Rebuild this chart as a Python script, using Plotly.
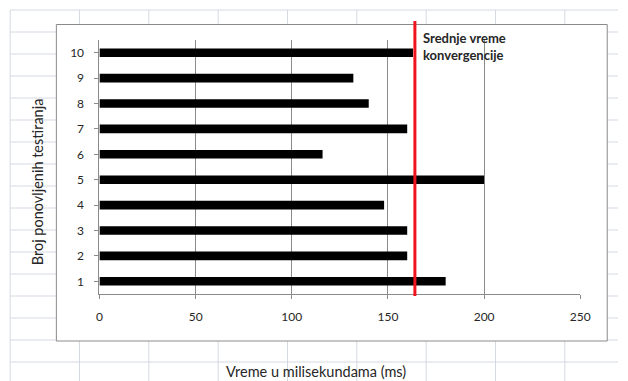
import plotly.graph_objects as go

# Test run results
runs = [1, 2, 3, 4, 5, 6, 7, 8, 9, 10]
times_ms = [180, 160, 160, 148, 200, 116, 160, 140, 132, 163]
mean_time = 164
x_ticks = [0, 50, 100, 150, 200, 250]

W, H = 628, 381
FONT = "Lato"
TEXT = "#262626"
AXIS_GRAY = "#8a8a8a"
SHEET_LINE = "#d4d9e2"


def px(x):
    return x / W


def py(y):
    return 1 - y / H


fig = go.Figure()

fig.add_trace(go.Bar(
    x=times_ms,
    y=runs,
    orientation="h",
    width=0.34,
    marker=dict(color="#000000", line=dict(width=0)),
    showlegend=False,
    hoverinfo="x+y",
))

shapes = []
# worksheet cell grid behind the chart
col_x = 7.3
while col_x < W:
    shapes.append(dict(type="line", xref="paper", yref="paper",
                       x0=px(col_x), x1=px(col_x), y0=py(10), y1=0,
                       line=dict(color=SHEET_LINE, width=1), layer="below"))
    col_x += 70.8
row_y = 10
while row_y < H:
    shapes.append(dict(type="line", xref="paper", yref="paper",
                       x0=px(7.3), x1=1, y0=py(row_y), y1=py(row_y),
                       line=dict(color=SHEET_LINE, width=1), layer="below"))
    row_y += 22

# chart frame
shapes.append(dict(type="rect", xref="paper", yref="paper",
                   x0=px(54.5), x1=px(617), y0=py(341), y1=py(24.5),
                   fillcolor="white", line=dict(color=AXIS_GRAY, width=1),
                   layer="below"))

# average convergence time marker
shapes.append(dict(type="line", xref="x", yref="paper",
                   x0=mean_time, x1=mean_time, y0=py(296), y1=py(21),
                   line=dict(color="#f0141e", width=3), layer="above"))

annotations = [
    dict(text="<b>Srednje vreme<br>konvergencije</b>", xref="paper", yref="paper",
         x=px(427), y=py(28), xanchor="left", yanchor="top", align="left",
         showarrow=False, font=dict(family=FONT, size=13, color=TEXT)),
    dict(text="Broj ponovljenih testiranja", xref="paper", yref="paper",
         x=px(35), y=py(182), xanchor="center", yanchor="middle", textangle=-90,
         showarrow=False, font=dict(family=FONT, size=14.5, color=TEXT)),
    dict(text="Vreme u milisekundama (ms)", xref="paper", yref="paper",
         x=px(320), y=py(371), xanchor="center", yanchor="middle",
         showarrow=False, font=dict(family=FONT, size=14.5, color=TEXT)),
]

fig.update_layout(
    width=W, height=H,
    margin=dict(l=0, r=0, t=0, b=0),
    paper_bgcolor="white",
    plot_bgcolor="rgba(0,0,0,0)",
    shapes=shapes,
    annotations=annotations,
    bargap=0.66,
    xaxis=dict(
        domain=[px(98.5), px(589.5)],
        range=[0, 250],
        tickvals=x_ticks,
        ticktext=[str(v) for v in x_ticks],
        showgrid=True, gridcolor=AXIS_GRAY, gridwidth=1,
        zeroline=False,
        showline=True, linecolor=AXIS_GRAY, linewidth=1,
        ticks="outside", ticklen=4, tickcolor=AXIS_GRAY,
        ticklabelstandoff=8,
        tickfont=dict(family=FONT, size=12, color=TEXT),
        fixedrange=True,
    ),
    yaxis=dict(
        domain=[py(294), py(40)],
        range=[0.5, 10.5],
        tickvals=runs,
        ticktext=[str(v) for v in runs],
        tickson="boundaries",
        showgrid=False, zeroline=False,
        showline=True, linecolor=AXIS_GRAY, linewidth=1,
        ticks="outside", ticklen=4, tickcolor=AXIS_GRAY,
        ticklabelstandoff=8,
        tickfont=dict(family=FONT, size=12, color=TEXT),
        fixedrange=True,
    ),
)

fig.write_html("out.html")
